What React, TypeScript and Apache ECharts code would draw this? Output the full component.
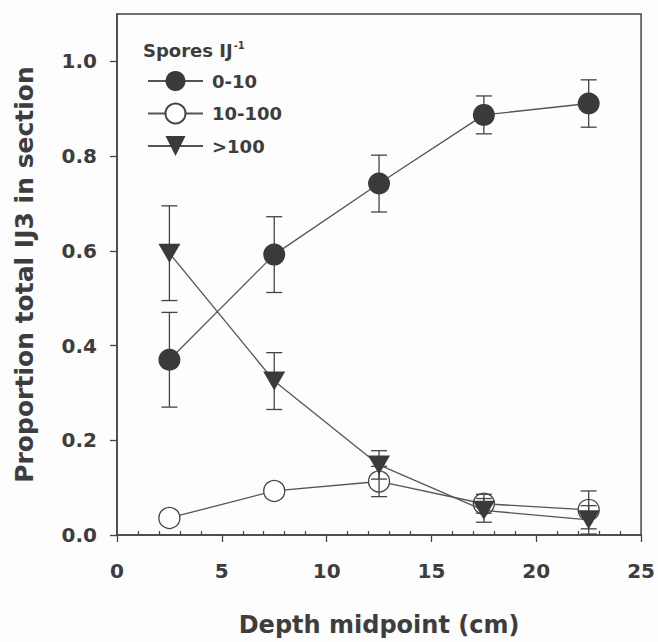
import React, { useEffect, useRef } from "react";
import * as echarts from "echarts";

const depth = [2.5, 7.5, 12.5, 17.5, 22.5];
const low = [0.37, 0.592, 0.742, 0.887, 0.911];
const lowErr = [0.1, 0.08, 0.06, 0.04, 0.05];
const mid = [0.036, 0.093, 0.113, 0.066, 0.053];
const midErr = [0, 0, 0.032, 0.02, 0.04];
const high = [0.595, 0.325, 0.148, 0.052, 0.032];
const highErr = [0.1, 0.06, 0.03, 0.025, 0.03];
const seriesNames = ["0-10", "10-100", ">100"];
const yTicks = [0, 0.2, 0.4, 0.6, 0.8, 1.0];
const xMinorTicks = [1, 2, 3, 4, 6, 7, 8, 9, 11, 12, 13, 14, 16, 17, 18, 19, 21, 22, 23, 24];

const FONT = "DejaVu Sans";
const TXT = "#3d3d3d";
const AX = "#444";

function errData(v: number[], e: number[]) {
  return depth
    .map((d, i) => [d, v[i] - e[i], v[i] + e[i]])
    .filter((_, i) => e[i] > 0);
}

function errSeries(v: number[], e: number[], z: number) {
  return {
    type: "custom",
    silent: true,
    z,
    data: errData(v, e),
    encode: { x: 0, y: [1, 2] },
    renderItem: (params: any, api: any) => {
      const x = api.value(0);
      const lo = api.coord([x, api.value(1)]);
      const hi = api.coord([x, api.value(2)]);
      const w = 8;
      const st = { stroke: "#444", lineWidth: 1.3 };
      return {
        type: "group",
        children: [
          { type: "line", shape: { x1: lo[0], y1: lo[1], x2: hi[0], y2: hi[1] }, style: st },
          { type: "line", shape: { x1: lo[0] - w, y1: lo[1], x2: lo[0] + w, y2: lo[1] }, style: st },
          { type: "line", shape: { x1: hi[0] - w, y1: hi[1], x2: hi[0] + w, y2: hi[1] }, style: st },
        ],
      };
    },
  };
}

export default function App() {
  const ref = useRef<HTMLDivElement>(null);
  useEffect(() => {
    if (!ref.current) return;
    const chart = echarts.init(ref.current, null, { renderer: "svg" });
    const lineStyle = { color: "#555", width: 1.3 };
    chart.setOption({
      animation: false,
      backgroundColor: "#fdfdfd",
      title: {
        text: "Spores IJ{sup|-1}",
        left: 138,
        top: 35,
        textStyle: {
          fontFamily: FONT,
          fontWeight: "bold",
          fontSize: 18,
          color: TXT,
          rich: {
            sup: { fontFamily: FONT, fontWeight: "bold", fontSize: 10, color: TXT, padding: [0, 0, 10, 1] },
          },
        },
      },
      legend: {
        left: 142,
        top: 66,
        orient: "vertical",
        itemWidth: 55,
        itemHeight: 25,
        itemGap: 11.5,
        data: seriesNames,
        textStyle: { fontFamily: FONT, fontWeight: "bold", fontSize: 18, color: TXT, padding: [0, 0, 0, 4] },
      },
      grid: {
        left: 117,
        right: 15,
        top: 14,
        bottom: 105,
        show: true,
        borderColor: AX,
        borderWidth: 1.5,
        backgroundColor: "#fdfdfd",
      },
      xAxis: [
        {
          type: "value",
          min: 0,
          max: 25,
          interval: 5,
          name: "Depth midpoint (cm)",
          nameLocation: "middle",
          nameGap: 78,
          nameTextStyle: { fontFamily: FONT, fontWeight: "bold", fontSize: 24, color: TXT },
          axisLine: { lineStyle: { color: AX, width: 1.5 } },
          axisTick: { length: 7, lineStyle: { color: AX, width: 1.3 } },
          axisLabel: { margin: 26, fontFamily: FONT, fontWeight: "bold", fontSize: 20, color: TXT },
          splitLine: { show: false },
        },
        {
          type: "value",
          min: 0,
          max: 25,
          position: "bottom",
          axisLine: { show: false },
          axisTick: { inside: true, length: 4, customValues: xMinorTicks, lineStyle: { color: AX, width: 1.2 } },
          axisLabel: { show: false },
          splitLine: { show: false },
        },
      ],
      yAxis: {
        type: "value",
        min: 0,
        max: 1.1,
        name: "Proportion total IJ3 in section",
        nameLocation: "middle",
        nameGap: 80,
        nameTextStyle: { fontFamily: FONT, fontWeight: "bold", fontSize: 25, color: TXT },
        axisLine: { lineStyle: { color: AX, width: 1.5 } },
        axisTick: { length: 7, customValues: yTicks, lineStyle: { color: AX, width: 1.3 } },
        axisLabel: {
          margin: 20,
          customValues: yTicks,
          formatter: (v: number) => v.toFixed(1),
          fontFamily: FONT,
          fontWeight: "bold",
          fontSize: 20,
          color: TXT,
        },
        splitLine: { show: false },
      },
      series: [
        errSeries(low, lowErr, 1),
        {
          name: seriesNames[0],
          type: "line",
          z: 3,
          data: depth.map((d, i) => [d, low[i]]),
          symbol: "circle",
          symbolSize: 22,
          lineStyle,
          itemStyle: { color: "#3a3a3a", borderWidth: 0 },
        },
        {
          name: seriesNames[1],
          type: "line",
          z: 3,
          data: depth.map((d, i) => [d, mid[i]]),
          symbol: "circle",
          symbolSize: 21,
          lineStyle,
          itemStyle: { color: "#ffffff", borderColor: "#444", borderWidth: 1.3 },
        },
        errSeries(mid, midErr, 4),
        errSeries(high, highErr, 4),
        {
          name: seriesNames[2],
          type: "line",
          z: 5,
          data: depth.map((d, i) => [d, high[i]]),
          symbol: "triangle",
          symbolRotate: 180,
          symbolSize: [22, 19],
          lineStyle,
          itemStyle: { color: "#3a3a3a", borderWidth: 0 },
        },
      ],
    });
    return () => chart.dispose();
  }, []);
  return (
    <div
      ref={ref}
      style={{ position: "fixed", left: 0, top: 0, width: 658, height: 642 }}
    />
  );
}
